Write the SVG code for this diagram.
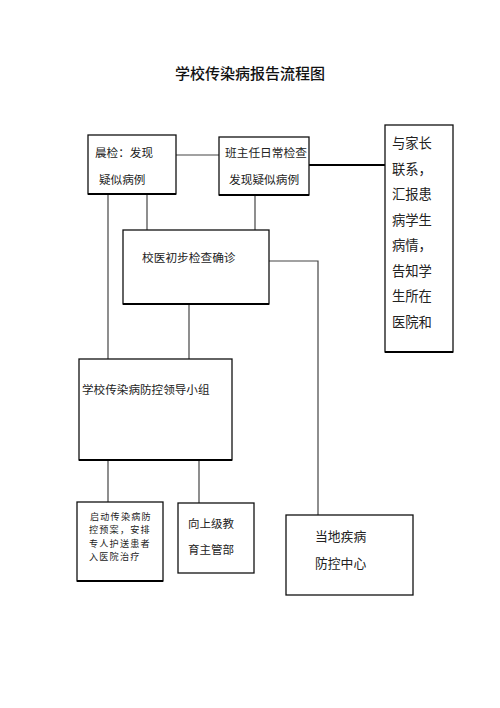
<svg xmlns="http://www.w3.org/2000/svg" width="500" height="708" viewBox="0 0 500 708">
<style>
.bg{fill:#ffffff}
.box{fill:#ffffff;stroke:#111;stroke-width:1.3}
.con{fill:none;stroke:#444;stroke-width:1.2}
.thick{fill:none;stroke:#000;stroke-width:2.2}
.t{font-family:"Noto Sans CJK SC","Noto Sans",sans-serif;fill:#222}
.s{font-size:9.1px;letter-spacing:1.2px}
.title{font-family:"Noto Sans CJK SC","Noto Sans",sans-serif;font-size:15px;font-weight:500;fill:#111}
</style>
<rect class="bg" x="0" y="0" width="500" height="708"/>
<text class="title" x="175" y="79">学校传染病报告流程图</text>
<g id="connectors">
<line class="con" x1="176" y1="155" x2="219" y2="155"/>
<line class="thick" x1="309" y1="165" x2="385" y2="165"/>
<line class="con" x1="108" y1="194" x2="108" y2="359"/>
<line class="con" x1="147" y1="194" x2="147" y2="230"/>
<line class="con" x1="255" y1="195" x2="255" y2="230"/>
<line class="con" x1="189" y1="304" x2="189" y2="359"/>
<polyline class="con" points="269,261 318,261 318,515"/>
<line class="con" x1="108" y1="460" x2="108" y2="502"/>
<line class="con" x1="199" y1="460" x2="199" y2="503"/>
</g>
<g id="morning-check">
<rect class="box" x="88" y="135" width="88" height="59"/>
<line x1="88" y1="194" x2="176" y2="194" stroke="#000" stroke-width="2"/>
<text class="t" x="95" y="157" font-size="11.6">晨检：发现</text>
<text class="t" x="99" y="184" font-size="11.6">疑似病例</text>
</g>
<g id="teacher-check">
<rect class="box" x="219" y="137" width="90" height="58"/>
<line x1="219" y1="195" x2="309" y2="195" stroke="#000" stroke-width="2"/>
<text class="t" x="225" y="157" font-size="11.7">班主任日常检查</text>
<text class="t" x="229" y="184" font-size="11.7">发现疑似病例</text>
</g>
<g id="parents">
<rect class="box" x="385" y="125" width="68" height="227"/>
<line x1="385" y1="352" x2="453" y2="352" stroke="#000" stroke-width="2"/>
<text class="t" x="392" y="148" font-size="13.3">与家长</text>
<text class="t" x="392" y="173.5" font-size="13.3">联系，</text>
<text class="t" x="392" y="199" font-size="13.3">汇报患</text>
<text class="t" x="392" y="224.5" font-size="13.3">病学生</text>
<text class="t" x="392" y="250" font-size="13.3">病情，</text>
<text class="t" x="392" y="275.5" font-size="13.3">告知学</text>
<text class="t" x="392" y="301" font-size="13.3">生所在</text>
<text class="t" x="392" y="326.5" font-size="13.3">医院和</text>
</g>
<g id="school-doctor">
<rect class="box" x="123" y="230" width="146" height="74"/>
<line x1="123" y1="304" x2="269" y2="304" stroke="#000" stroke-width="2"/>
<text class="t" x="142" y="261.5" font-size="11.7">校医初步检查确诊</text>
</g>
<g id="leader-group">
<rect class="box" x="79" y="359" width="153" height="101"/>
<line x1="79" y1="460" x2="232" y2="460" stroke="#000" stroke-width="2"/>
<text class="t" x="82" y="393.5" font-size="11.6">学校传染病防控领导小组</text>
</g>
<g id="hospital">
<rect class="box" x="77" y="502" width="86" height="79"/>
<line x1="77" y1="581" x2="163" y2="581" stroke="#000" stroke-width="2"/>
<text class="t s" x="90" y="519.5">启动传染病防</text>
<text class="t s" x="89" y="533">控预案，安排</text>
<text class="t s" x="89" y="546.5">专人护送患者</text>
<text class="t s" x="89" y="560">入医院治疗</text>
</g>
<g id="education-dept">
<rect class="box" x="178" y="503" width="76" height="70"/>
<text class="t" x="188" y="527.5" font-size="11.5">向上级教</text>
<text class="t" x="188" y="553.5" font-size="11.5">育主管部</text>
</g>
<g id="cdc">
<rect class="box" x="286" y="515" width="127" height="80"/>
<text class="t" x="315" y="541" font-size="12.8">当地疾病</text>
<text class="t" x="315" y="568" font-size="12.8">防控中心</text>
</g>
</svg>
